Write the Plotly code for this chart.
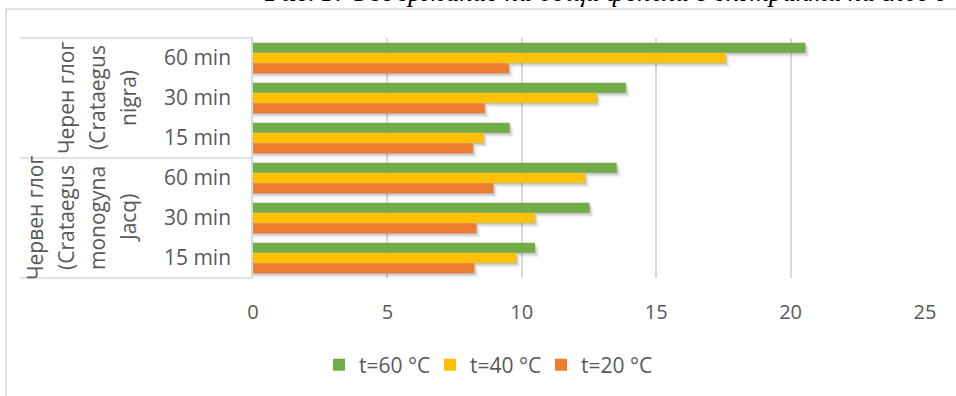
import plotly.graph_objects as go

# --- data -------------------------------------------------------------
groups = ["Червен глог (Crataegus monogyna Jacq)", "Черен глог (Crataegus nigra)"]
group_lines = [
    ["Червен глог", "(Crataegus", "monogyna", "Jacq)"],
    ["Черен глог", "(Crataegus", "nigra)"],
]
times = ["15 min", "30 min", "60 min"]

series_names = ["t=20 °C", "t=40 °C", "t=60 °C"]
t20 = [8.23, 8.31, 8.94, 8.18, 8.62, 9.52]
t40 = [9.79, 10.49, 12.35, 8.58, 12.79, 17.58]
t60 = [10.49, 12.52, 13.53, 9.55, 13.87, 20.55]
series_values = [t20, t40, t60]
series_colors = ["#ED7D31", "#FFC000", "#70AD47"]

x_ticks = [0, 5, 10, 15, 20, 25]
caption = "<b>Рис. 3.</b> Съдържание на общи феноли в екстракти на глог с вода"

# --- geometry ---------------------------------------------------------
W, H = 956, 396
ML, MR, MT, MB = 253, 31, 38, 117
PW, PH = W - ML - MR, H - MT - MB


def px_x(p):
    return (p - ML) / PW


def px_y(p):
    return (H - MB - p) / PH


categories = [f"{g}|{t}" for g in groups for t in times]
tick_text = [t for g in groups for t in times]
cat_pos = list(range(len(categories)))

# bar slots inside each category band (category pitch = 1 unit)
BAR_W = 0.248
BAR_STEP = 0.256
slot_offsets = [-0.38 + i * BAR_STEP for i in range(3)]

FONT = "Open Sans"
GREY_TXT = "#595959"
GRID = "#D9D9D9"

fig = go.Figure()

# soft drop shadow under the bars
px_unit_x = 25 / PW
px_unit_y = len(categories) / PH
shadow_layers = [(4.0, 4.5, 0.05), (2.5, 3.0, 0.08), (1.2, 1.6, 0.12)]
for dx, dy, alpha in shadow_layers:
    for vals, off in zip(series_values, slot_offsets):
        fig.add_trace(go.Bar(
            y=cat_pos, x=[v + dx * px_unit_x for v in vals], orientation="h",
            width=BAR_W, offset=off - dy * px_unit_y,
            marker=dict(color=f"rgba(0,0,0,{alpha})", line=dict(width=0)),
            showlegend=False, hoverinfo="skip",
        ))

for name, vals, col, off in zip(series_names, series_values, series_colors, slot_offsets):
    fig.add_trace(go.Bar(
        y=cat_pos, x=vals, name=name, orientation="h",
        width=BAR_W, offset=off,
        marker=dict(color=col, line=dict(width=0)),
    ))

fig.update_layout(
    width=W, height=H,
    margin=dict(l=ML, r=MR, t=MT, b=MB),
    paper_bgcolor="white", plot_bgcolor="white",
    barmode="overlay",
    font=dict(family=FONT, size=21, color=GREY_TXT),
    showlegend=True,
    legend=dict(
        orientation="h", traceorder="reversed",
        x=px_x(319), xanchor="left", y=px_y(365), yanchor="middle",
        entrywidth=66, entrywidthmode="pixels",
        font=dict(family=FONT, size=21, color=GREY_TXT),
        bgcolor="rgba(0,0,0,0)",
    ),
    xaxis=dict(
        range=[0, 25], tickvals=x_ticks, showgrid=True, gridcolor=GRID,
        gridwidth=1.5, zeroline=False, showline=False, ticks="",
        ticklabelstandoff=20, tickfont=dict(size=20),
    ),
    yaxis=dict(
        range=[-0.5, len(categories) - 0.5],
        tickvals=cat_pos, ticktext=tick_text, showgrid=False,
        zeroline=False, showline=True, linecolor=GRID, linewidth=1.5,
        ticks="", ticklabelstandoff=16, tickfont=dict(size=21),
    ),
)

# outer chart frame
fig.add_shape(type="rect", xref="paper", yref="paper",
              x0=px_x(6), x1=px_x(1100), y0=px_y(600), y1=px_y(9),
              line=dict(color=GRID, width=1.5), layer="below")

# category table rules
for yv in (0, 0.5, 1):
    fig.add_shape(type="line", xref="paper", yref="paper",
                  x0=px_x(20), x1=0, y0=yv, y1=yv,
                  line=dict(color=GRID, width=1.5))

# rotated group labels
col_x = [128 - 31 * k for k in range(4)]
for gi, lines in enumerate(group_lines):
    yc = 0.25 + 0.5 * gi
    n = len(lines)
    for li, txt in enumerate(lines):
        fig.add_annotation(
            text=txt, xref="paper", yref="paper",
            x=px_x(col_x[n - 1 - li]), y=yc,
            xanchor="center", yanchor="middle",
            textangle=-90, showarrow=False,
            font=dict(family=FONT, size=21, color=GREY_TXT),
        )

# figure caption above the frame
fig.add_annotation(
    text=f"<i>{caption}</i>", xref="paper", yref="paper",
    x=px_x(262), y=px_y(9), xanchor="left", yanchor="bottom",
    showarrow=False, align="left",
    font=dict(family="Liberation Serif", size=27, color="#000000"),
)

fig.write_html("out.html")
